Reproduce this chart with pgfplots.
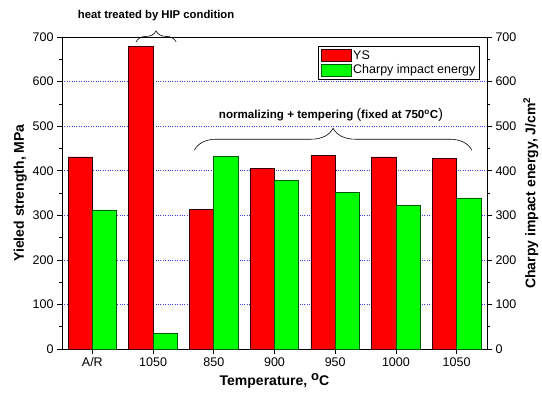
\documentclass[border=0pt]{standalone}
\usepackage{fontspec}
\setmainfont{Liberation Sans}
\usepackage{pgfplots}
\pgfplotsset{compat=1.18}
\usetikzlibrary{decorations.pathreplacing}
\definecolor{barred}{RGB}{255,0,0}
\definecolor{bargreen}{RGB}{0,255,0}
\definecolor{gridblue}{RGB}{60,60,255}
\begin{document}
\begin{tikzpicture}
\begin{axis}[
  scale only axis, width=425pt, height=312pt,
  at={(0,0)}, anchor=south west,
  clip=false,
  xmin=-0.5, xmax=6.5, ymin=0, ymax=700,
  ybar=0pt, bar width=0.4,
  xtick={0,1,2,3,4,5,6},
  xticklabels={A/R,1050,850,900,950,1000,1050},
  ytick={0,100,...,700}, minor y tick num=1,
  xtick pos=bottom, ytick pos=left,
  tick align=outside,
  major tick length=5pt, minor tick length=3pt,
  tick style={black, line width=0.6pt},
  axis line style={line width=0.9pt},
  ymajorgrids, grid style={gridblue, dotted, line width=0.6pt},
  /pgf/number format/assume math mode=true,
  tick label style={font=\fontsize{12.5}{14}\selectfont},
  xlabel={\bfseries Temperature, \raisebox{0.6ex}{\fontsize{13}{13}\selectfont o}C},
  ylabel={\bfseries Yieled strength, MPa},
  label style={font=\fontsize{14}{16}\selectfont},
  xlabel style={yshift=0pt},
  ylabel style={yshift=-1pt},
  legend style={at={(rel axis cs:0.983,0.971)}, anchor=north east,
    font=\fontsize{12.5}{14}\selectfont, draw=black, line width=0.6pt,
    legend cell align=left, inner sep=2pt, row sep=0pt},
  legend image code/.code={\draw[#1, line width=0.6pt] (0pt,-6pt) rectangle (30pt,6pt);},
]
\addplot[fill=barred, draw=black!80!red, line width=0.7pt, bar shift=-0.2]
  coordinates {(0,431) (1,678) (2,313) (3,405) (4,435) (5,431) (6,427)};
\addlegendentry{YS}
\addplot[fill=bargreen, draw=green!35!black, line width=0.7pt, bar shift=0.2]
  coordinates {(0,312) (1,34) (2,432) (3,378) (4,351) (5,322) (6,339)};
\addlegendentry{Charpy impact energy}

\draw[decorate, decoration={brace, amplitude=11pt}, line width=0.6pt]
  (axis cs:0.72,689) -- (axis cs:1.38,689);
\node[font=\bfseries\fontsize{11.3}{12}\selectfont] at (axis cs:1.05,747) {heat treated by HIP condition};
\draw[decorate, decoration={brace, amplitude=22pt}, line width=0.6pt]
  (axis cs:1.68,446) -- (axis cs:6.25,446);
\node[font=\bfseries\fontsize{11.6}{12}\selectfont] at (axis cs:3.93,525)
  {normalizing + tempering {\mdseries\fontsize{14}{12}\selectfont(}fixed at 750\textsuperscript{o}C{\mdseries\fontsize{14}{12}\selectfont)}};
\end{axis}
\begin{axis}[
  scale only axis, width=425pt, height=312pt,
  at={(0,0)}, anchor=south west,
  xmin=-0.5, xmax=6.5, ymin=0, ymax=700,
  axis x line=none,
  axis y line*=right,
  ytick={0,100,...,700}, minor y tick num=1,
  tick align=outside,
  major tick length=5pt, minor tick length=3pt,
  tick style={black, line width=0.6pt},
  axis line style={line width=0.9pt},
  /pgf/number format/assume math mode=true,
  tick label style={font=\fontsize{12.5}{14}\selectfont},
  ylabel={\bfseries Charpy impact energy, J/cm\textsuperscript{2}},
  label style={font=\fontsize{14}{16}\selectfont},
]
\end{axis}
\pgfresetboundingbox
\path (-62pt,-45pt) rectangle (480pt,349pt);
\end{tikzpicture}
\end{document}
